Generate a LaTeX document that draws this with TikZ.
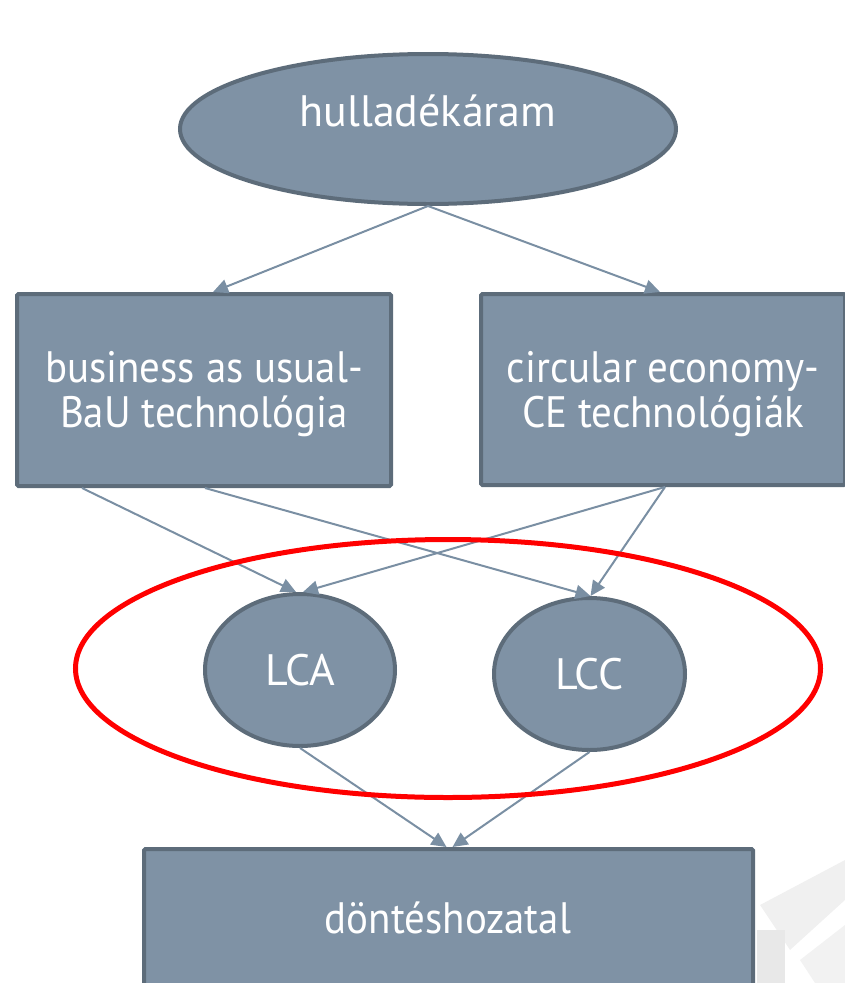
\documentclass[tikz,border=0pt]{standalone}
\usepackage{fontspec}
\setmainfont{PT Sans}
\newfontfamily\boxfont{PT Sans}[FakeStretch=0.93]
\usetikzlibrary{shapes.geometric,arrows.meta,calc}
\definecolor{boxfill}{RGB}{127,146,165}
\definecolor{boxline}{RGB}{93,108,122}
\definecolor{arrowcol}{RGB}{122,143,163}
\begin{document}
\begin{tikzpicture}[x=1pt,y=-1pt,
  shapebase/.style={fill=boxfill,draw=boxline,line width=4pt,text=white,font=\fontsize{44}{45}\selectfont,align=center,inner sep=0pt},
  ovalnode/.style={shapebase,ellipse},
  rectnode/.style={shapebase,rectangle,rounded corners=1.5pt,font=\boxfont\fontsize{44}{45}\selectfont},
  conn/.style={draw=arrowcol,line width=2pt,-{Triangle[length=15pt,width=14pt]}},
  redring/.style={draw=red,line width=5pt}]
\useasboundingbox (0,0) rectangle (845,983);
\begin{scope}
\clip (0,0) rectangle (845,983);
% faint watermark fragment
\fill[gray!12] (760,905) -- (845,860) -- (845,900) -- (790,950) -- cycle;
\fill[gray!18] (757,930) rectangle (785,983);
\fill[gray!10] (800,960) -- (845,925) -- (845,983) -- (815,983) -- cycle;
% nodes
\node[ovalnode,minimum width=496pt,minimum height=150pt,text height=0pt,text depth=6pt] (top) at (428,129) {hulladékáram};
\node[rectnode,minimum width=374pt,minimum height=192pt] (bau) at (204,390) {\rule{0pt}{40pt}business as usual-\\BaU technológia};
\node[rectnode,minimum width=364pt,minimum height=191pt] (ce) at (663,389.5) {\rule{0pt}{40pt}circular economy-\\CE technológiák};
\node[ovalnode,minimum width=190pt,minimum height=152pt] (lca) at (300,670) {LCA};
\node[ovalnode,minimum width=191pt,minimum height=152pt] (lcc) at (589.5,674) {LCC};
\node[rectnode,minimum width=609pt,minimum height=200pt,anchor=north] (dec) at (448.5,847) {};
\node[text=white,font=\boxfont\fontsize{44}{45}\selectfont,inner sep=0pt] (dectext) at (448,918) {döntéshozatal};
% connectors
\draw[conn] (top.south) -- ([xshift=-180pt]bau.north east);
\draw[conn] (top.south) -- ([xshift=-3pt]ce.north);
\draw[conn] ([xshift=67pt]bau.south west) -- ([xshift=-4pt]lca.north);
\draw[conn] ([xshift=190pt]bau.south west) -- ([xshift=1pt]lcc.north);
\draw[conn] ([xshift=2pt]ce.south) -- ([xshift=3pt]lca.north);
\draw[conn] ([xshift=2pt]ce.south) -- ([xshift=1pt]lcc.north);
\draw[conn] (lca.south) -- ([xshift=-2pt]dec.north);
\draw[conn] (lcc.south) -- ([xshift=4pt]dec.north);
% red ring
\node[redring,ellipse,minimum width=745pt,minimum height=258pt] (ring) at (448,668.5) {};
\end{scope}
\end{tikzpicture}
\end{document}
